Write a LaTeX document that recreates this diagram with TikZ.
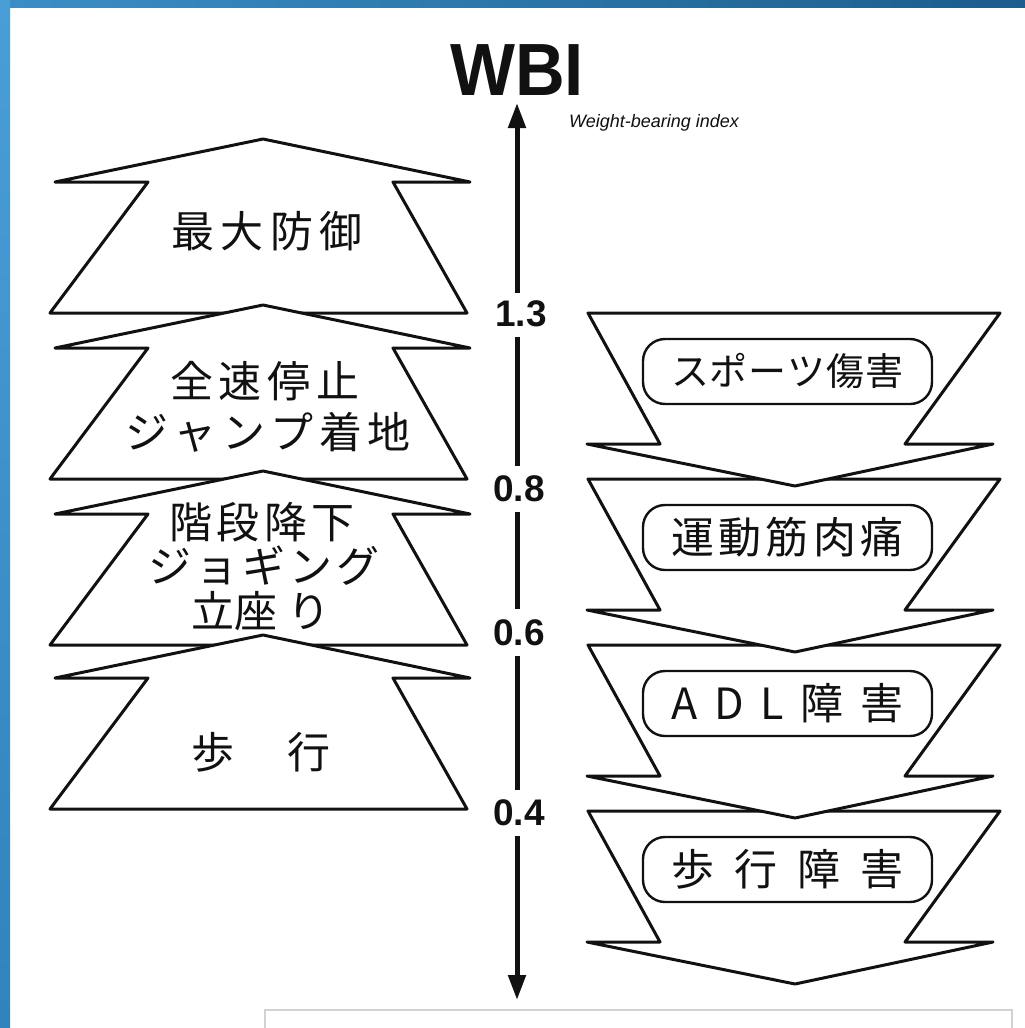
\documentclass[tikz,border=0pt]{standalone}
\usepackage{fontspec}
\usepackage{graphicx}
\usetikzlibrary{arrows.meta}
\newfontfamily\jp{Noto Sans CJK JP}
\newfontfamily\hv{Liberation Sans}
\definecolor{bandA}{HTML}{3B8FC6}
\definecolor{bandB}{HTML}{1B5D8C}
\definecolor{bandC}{HTML}{4A9ED6}
\definecolor{bandD}{HTML}{3282BC}
\definecolor{ink}{HTML}{111111}
\tikzset{
  shapeline/.style={draw=ink, fill=white, line width=3pt, line join=round},
  labbox/.style={draw=ink, line width=2.4pt, rounded corners=22pt, minimum width=289pt, minimum height=65pt, inner sep=0pt},
  jtext/.style={font=\jp\fontsize{43pt}{43pt}\selectfont, inner sep=0pt, text=ink},
  jsmall/.style={font=\jp\fontsize{38pt}{38pt}\selectfont, inner sep=0pt, text=ink},
  axlab/.style={font=\hv\bfseries\fontsize{37pt}{37pt}\selectfont, inner sep=0pt, text=ink},
  axisline/.style={draw=ink, line width=5pt},
  uparrow/.pic={\path[shapeline] (263,0) -- (470,43) -- (393,43) -- (467,174) -- (50,174) -- (148,43) -- (55,43) -- cycle;},
  downarrow/.pic={\path[shapeline] (588,0) -- (1000,0) -- (905,131) -- (993,131) -- (795,173) -- (587,131) -- (660,131) -- cycle;}
}
\begin{document}
\begin{tikzpicture}[x=1pt,y=-1pt]
\useasboundingbox (0,0) rectangle (1025,1028);
\fill[white] (0,0) rectangle (1025,1028);
\shade[left color=bandA, right color=bandB] (0,0) rectangle (1025,7.5);
\shade[top color=bandC, bottom color=bandD] (0,0) rectangle (10,1028);
\draw[gray!35, line width=1.5pt] (265,1028) -- (265,1010) -- (1012,1010) -- (1012,1028);

% up arrows (left), later ones on top
\pic at (0,139) {uparrow};
\pic at (0,305) {uparrow};
\pic at (0,471) {uparrow};
\pic at (0,635) {uparrow};

% down arrows (right), upper ones on top
\pic at (0,811) {downarrow};
\pic at (0,645) {downarrow};
\pic at (0,479) {downarrow};
\pic at (0,313) {downarrow};

% left texts
\node[jtext] (t1) at (267,231) {\makebox[191pt][s]{最\hfill 大\hfill 防\hfill 御}};
\node[jtext] (t2a) at (265,381) {\makebox[190pt][s]{全\hfill 速\hfill 停\hfill 止}};
\node[jtext] (t2b) at (268,432) {\makebox[285pt][s]{ジ\hfill ャ\hfill ン\hfill プ\hfill 着\hfill 地}};
\node[jtext] (t3a) at (262,522) {\makebox[185pt][s]{階\hfill 段\hfill 降\hfill 下}};
\node[jtext] (t3b) at (264,566) {\makebox[232pt][s]{ジ\hfill ョ\hfill ギ\hfill ン\hfill グ}};
\node[jtext] (t3c) at (261,611) {\makebox[139pt][s]{立座\hfill り}};
\node[jtext] (t4) at (261,752) {\makebox[139pt][s]{歩\hfill 行}};

% right boxes
\node[labbox, jsmall] (b1) at (787.5,371.5) {\makebox[233pt][s]{ス\hfill ポ\hfill ー\hfill ツ\hfill 傷\hfill 害}};
\node[labbox, jtext] (b2) at (787.5,537.5) {\makebox[233pt][s]{運\hfill 動\hfill 筋\hfill 肉\hfill 痛}};
\node[labbox, jtext] (b3) at (787.5,703.5) {\makebox[233pt][s]{A\hfill D\hfill L\hfill 障\hfill 害}};
\node[labbox, jtext] (b4) at (787.5,869.5) {\makebox[233pt][s]{歩\hfill 行\hfill 障\hfill 害}};

% title
\node[inner sep=0pt, text=ink, font=\hv\bfseries\fontsize{74pt}{74pt}\selectfont] (wbi) at (517,70.5) {\scalebox{0.93}[1]{WBI}};
\node[anchor=base west, inner sep=0pt, text=ink, font=\hv\itshape\fontsize{18pt}{18pt}\selectfont] (wbix) at (569,127) {Weight-bearing index};

% axis
\coordinate (axtop) at (517,103);
\coordinate (axbot) at (517,1000);
\node[axlab] (l13) at (521,314) {1.3};
\node[axlab] (l08) at (519,489) {0.8};
\node[axlab] (l06) at (519,632.5) {0.6};
\node[axlab] (l04) at (519,813) {0.4};
\draw[axisline, {Triangle[length=25pt,width=17pt]}-, shorten >=8pt] (axtop) -- (axtop |- l13.north);
\draw[axisline, shorten <=10pt, shorten >=10pt] (axtop |- l13.south) -- (axtop |- l08.north);
\draw[axisline, shorten <=10pt, shorten >=10pt] (axtop |- l08.south) -- (axtop |- l06.north);
\draw[axisline, shorten <=10pt, shorten >=10pt] (axtop |- l06.south) -- (axtop |- l04.north);
\draw[axisline, -{Triangle[length=25pt,width=17pt]}, shorten <=10pt] (axtop |- l04.south) -- (axbot);
\end{tikzpicture}
\end{document}
